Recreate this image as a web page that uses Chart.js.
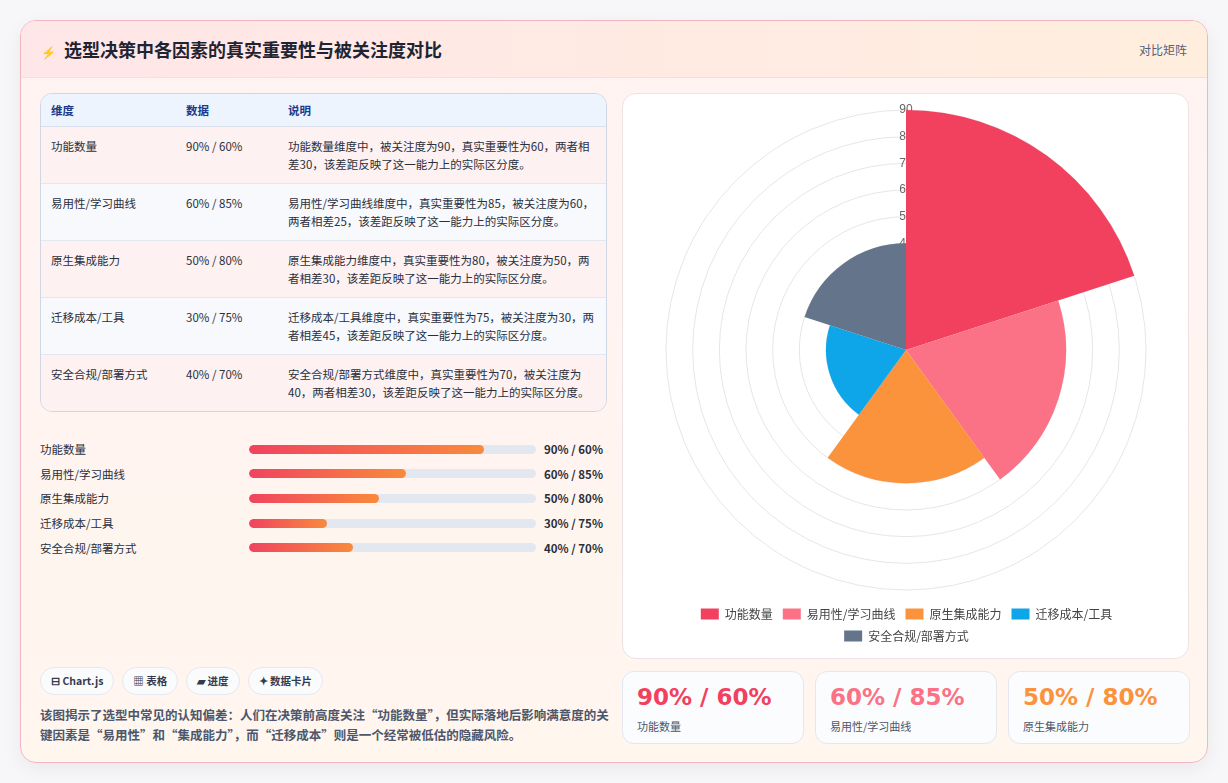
<!DOCTYPE html>
<html><head><meta charset="utf-8">
<script src="https://cdn.jsdelivr.net/npm/chart.js@4/dist/chart.umd.min.js"></script>
<style>
*{box-sizing:border-box;margin:0;padding:0}
body{width:1228px;height:783px;background:#f7f7f9;font-family:"Noto Sans CJK SC","Noto Sans",sans-serif;overflow:hidden}
.card{position:absolute;left:20px;top:20px;width:1188px;height:743px;border:1px solid #f3b6c0;border-radius:16px;background:linear-gradient(180deg,#fff3f3,#fff6ee);box-shadow:0 6px 20px rgba(0,0,0,.06);overflow:hidden}
.head{height:57px;background:linear-gradient(90deg,#ffe6e8,#ffeede);border-bottom:1px solid #f6dede;display:flex;align-items:center;padding:0 20px}
.head h1{font-size:18px;font-weight:700;color:#1f2433;flex:1}
.head h1 span{color:#4a6cf0;font-size:12px;margin-right:8px}
.head .tag{font-size:12px;color:#55607a}
table{position:absolute;left:19px;top:72px;width:567px;border-collapse:separate;border-spacing:0;border:1px solid #cfd6e4;border-radius:12px;overflow:hidden;font-size:11.5px;color:#2a2f3c}
th{background:#eef4fd;color:#1d3a8a;text-align:left;font-weight:600;height:33px;padding:0 10px;border-bottom:1px solid #d9dfea}
td{vertical-align:top;padding:10px 10px;line-height:18px;border-bottom:1px solid #e3e7ef}
tr:nth-child(odd) td{background:#fdf1f1}
tr:nth-child(even) td{background:#f7f9fc}
tr:last-child td{border-bottom:none}
.bars{position:absolute;left:19px;top:416px;width:567px}
.br{display:flex;align-items:center;height:24.6px;font-size:11.5px;color:#2a2f3c}
.br .l{width:209px}
.br .t{width:287px;height:9px;border-radius:5px;background:#e3e7ef;overflow:hidden}
.br .f{height:100%;border-radius:5px;background:linear-gradient(90deg,#f0435f,#f98a3c)}
.br .v{margin-left:8px;font-weight:700}
.pills{position:absolute;left:19px;top:646px;display:flex;gap:8px}
.pills div{height:28px;padding:0 10px;border:1px solid #e4e8f0;border-radius:14px;background:#fafbfd;font-size:10.5px;font-weight:700;color:#333b4d;line-height:26px}
.note{position:absolute;left:19px;top:684px;width:570px;font-size:12.5px;line-height:20px;color:#4d566b;font-weight:600}
.chartbox{position:absolute;left:601px;top:72px;width:567px;height:566px;background:#fff;border:1px solid #eee2e4;border-radius:14px}
.kpis{position:absolute;left:601px;top:650px;display:flex;gap:11px}
.kpi{width:182px;height:73px;background:#fbfcfe;border:1px solid #e3e7ef;border-radius:12px;padding:10px 14px}
.kpi b{display:block;font-size:23px;font-family:"DejaVu Sans",sans-serif;font-weight:700;line-height:30px}
.kpi span{font-size:11px;color:#4d566b}
</style></head><body>
<div class="card">
  <div class="head"><h1><span>⚡</span>选型决策中各因素的真实重要性与被关注度对比</h1><div class="tag">对比矩阵</div></div>
  <table id="tbl"><thead><tr><th style="width:135px">维度</th><th style="width:102px">数据</th><th>说明</th></tr></thead><tbody></tbody></table>
  <div class="bars" id="bars"></div>
  <div class="pills"><div>⊟ Chart.js</div><div>▦ 表格</div><div>▰ 进度</div><div>✦ 数据卡片</div></div>
  <div class="note">该图揭示了选型中常见的认知偏差：人们在决策前高度关注“功能数量”，但实际落地后影响满意度的关键因素是“易用性”和“集成能力”，而“迁移成本”则是一个经常被低估的隐藏风险。</div>
  <div class="chartbox"><canvas id="c" width="567" height="566"></canvas></div>
  <div class="kpis" id="kpis"></div>
</div>
<script>
const categories = ["功能数量", "易用性/学习曲线", "原生集成能力", "迁移成本/工具", "安全合规/部署方式"];
const attention = [90, 60, 50, 30, 40];
const importance = [60, 85, 80, 75, 70];
const notes = [
  "功能数量维度中，被关注度为90，真实重要性为60，两者相差30，该差距反映了这一能力上的实际区分度。",
  "易用性/学习曲线维度中，真实重要性为85，被关注度为60，两者相差25，该差距反映了这一能力上的实际区分度。",
  "原生集成能力维度中，真实重要性为80，被关注度为50，两者相差30，该差距反映了这一能力上的实际区分度。",
  "迁移成本/工具维度中，真实重要性为75，被关注度为30，两者相差45，该差距反映了这一能力上的实际区分度。",
  "安全合规/部署方式维度中，真实重要性为70，被关注度为40，两者相差30，该差距反映了这一能力上的实际区分度。"
];
const colors = ["#f2405f", "#fb7185", "#fb923c", "#0ea5e9", "#64748b"];

const tb = document.querySelector("#tbl tbody");
const bars = document.getElementById("bars");
categories.forEach((c, i) => {
  const v = attention[i] + "% / " + importance[i] + "%";
  tb.insertAdjacentHTML("beforeend", `<tr><td>${c}</td><td>${v}</td><td>${notes[i]}</td></tr>`);
  bars.insertAdjacentHTML("beforeend", `<div class="br"><div class="l">${c}</div><div class="t"><div class="f" style="width:${attention[i] / 110 * 100}%"></div></div><div class="v">${v}</div></div>`);
});
const kpis = document.getElementById("kpis");
for (let i = 0; i < 3; i++) {
  kpis.insertAdjacentHTML("beforeend", `<div class="kpi"><b style="color:${colors[i]}">${attention[i]}% / ${importance[i]}%</b><span>${categories[i]}</span></div>`);
}

new Chart(document.getElementById("c"), {
  type: "polarArea",
  data: { labels: categories, datasets: [{ data: attention, backgroundColor: colors, borderWidth: 0 }] },
  options: {
    responsive: false, animation: false,
    layout: { padding: { top: 8, bottom: 8, left: 10, right: 10 } },
    scales: { r: { min: 0, max: 90, ticks: { stepSize: 10, color: "#666", showLabelBackdrop: false, font: { size: 12 } }, grid: { color: "#e6e6e6" } } },
    plugins: { legend: { position: "bottom", labels: { boxWidth: 18, boxHeight: 11, color: "#444", font: { size: 12, family: "Noto Sans CJK SC" } } } }
  }
});
</script>
</body></html>
